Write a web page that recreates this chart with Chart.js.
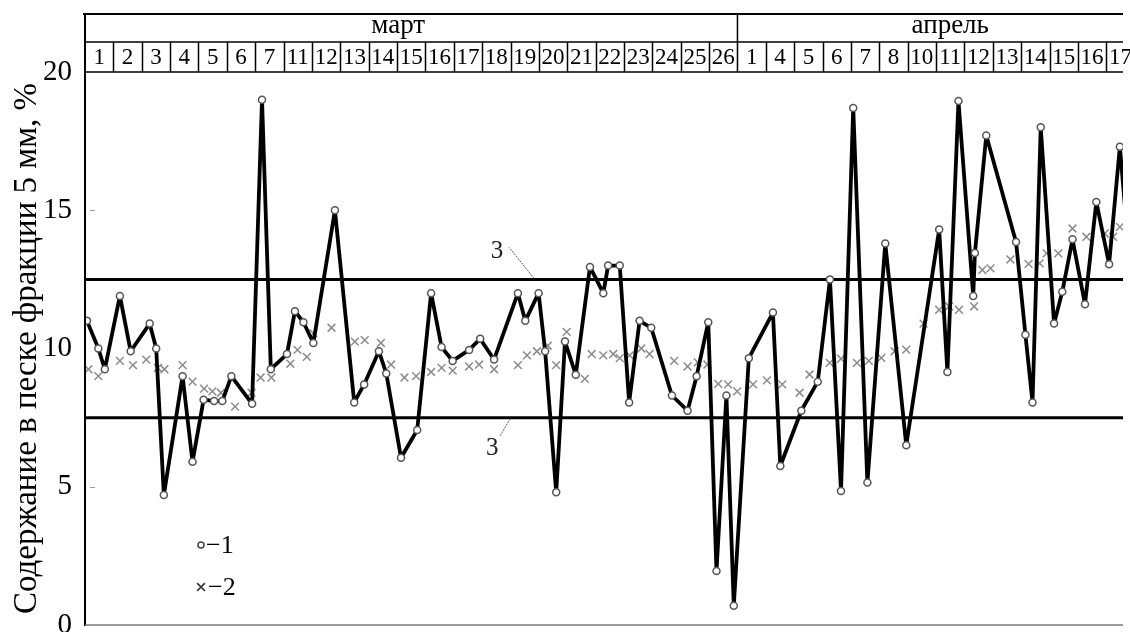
<!DOCTYPE html>
<html>
<head>
<meta charset="utf-8">
<script src="https://cdn.jsdelivr.net/npm/chart.js@4.4.1/dist/chart.umd.min.js"></script>
<style>
  html, body { margin: 0; padding: 0; background: #fff; overflow: hidden; }
  canvas { display: block; }
</style>
</head>
<body>
<canvas id="chart" width="1130" height="632"></canvas>
<script>
// Header: months and sampling days (one column per day)
const months = ['март', 'апрель'];
const marchDays = ['1','2','3','4','5','6','7','11','12','13','14','15','16','17','18','19','20','21','22','23','24','25','26'];
const aprilDays = ['1','4','5','6','7','8','10','11','12','13','14','15','16','17'];

// Series 1: individual samples (position along the day columns, content %)
const s1x = [0.07,0.47,0.70,1.23,1.61,2.28,2.51,2.78,3.44,3.79,4.18,4.55,4.84,5.16,5.89,6.24,6.55,7.12,7.40,7.70,
             8.05,8.81,9.49,9.84,10.36,10.62,11.14,11.71,12.20,12.57,12.96,13.54,13.93,14.42,15.26,15.52,15.99,16.22,16.61,16.92,
             17.30,17.80,18.27,18.44,18.85,19.18,19.55,19.96,20.69,21.24,21.56,21.97,22.26,22.61,22.87,23.40,24.25,24.51,25.25,25.83,
             26.26,26.65,27.08,27.58,28.21,28.95,30.11,30.40,30.79,31.31,31.37,31.77,32.82,33.15,33.40,33.69,34.16,34.45,34.81,35.25,
             35.65,36.10,36.48,36.75];
const s1y = [11.0,10.0,9.25,11.9,9.9,10.9,10.0,4.7,9.0,5.9,8.15,8.1,8.1,9.0,8.0,19.0,9.25,9.8,11.35,10.95,
             10.2,15.0,8.05,8.7,9.9,9.1,6.05,7.05,12.0,10.05,9.55,9.95,10.35,9.6,12.0,11.0,12.0,9.9,4.8,10.25,
             9.05,12.95,12.0,13.0,13.0,8.05,11.0,10.75,8.3,7.75,9.0,10.95,1.95,8.3,0.7,9.65,11.3,5.75,7.75,8.8,
             12.5,4.85,18.7,5.15,13.8,6.5,14.3,9.15,18.95,11.9,13.45,17.7,13.85,10.5,8.05,18.0,10.9,12.05,13.95,11.6,
             15.3,13.05,17.3,14.0];

// Series 2: moving values
const s2x = [0.12,0.47,1.23,1.69,2.16,2.57,2.80,3.44,3.79,4.20,4.49,4.79,5.29,5.87,6.19,6.57,7.24,7.49,7.82,8.05,
             8.69,9.51,9.86,10.43,10.79,11.26,11.67,12.20,12.57,12.96,13.54,13.89,14.42,15.26,15.58,15.93,16.31,16.61,16.98,17.62,
             17.86,18.27,18.62,18.85,19.20,19.61,19.90,20.77,21.24,21.60,21.94,22.32,22.67,22.99,23.55,24.04,24.58,25.19,25.54,26.25,
             26.65,27.21,27.63,28.07,28.54,28.95,29.56,30.11,30.46,30.81,31.34,31.63,31.92,32.62,33.26,33.65,33.90,34.31,34.81,35.30,
             35.95,36.24,36.48];
const s2y = [9.25,9.0,9.55,9.4,9.6,9.3,9.25,9.4,8.8,8.55,8.45,8.4,7.9,8.4,8.95,8.95,9.45,9.95,9.7,10.55,
             10.75,10.25,10.3,10.2,9.42,8.95,9.0,9.15,9.3,9.2,9.35,9.42,9.25,9.4,9.75,9.9,10.1,9.4,10.6,8.9,
             9.8,9.75,9.8,9.65,9.75,10.0,9.8,9.55,9.35,9.5,9.42,8.72,8.7,8.45,8.7,8.85,8.7,8.4,9.06,9.48,
             9.63,9.48,9.55,9.66,9.9,9.96,10.9,11.4,11.52,11.4,11.52,12.84,12.9,13.22,13.06,13.08,13.44,13.44,14.34,14.04,
             14.16,14.04,14.4];

// Curve 3: control limits
const limits = [12.5, 7.5];

const yTicks = [0, 5, 10, 15, 20];
const yTitle = 'Содержание в песке фракции 5 мм, %';
const legendLabels = ['−1', '−2'];

const SERIF = '"Liberation Serif", "DejaVu Serif", serif';
const COL_W_END = 36.59;              // visible width in day columns
const totalCols = marchDays.length + aprilDays.length;

const pts = (xs, ys) => xs.map((x, i) => ({ x, y: ys[i] }));

// Header table, axis frame, legend and "3" callouts
const framePlugin = {
  id: 'frame',
  afterDraw(chart) {
    const { ctx, chartArea: ca, scales: { x, y } } = chart;
    const colPx = c => x.getPixelForValue(c);
    const top = 14, mid = 42, bot = ca.top;
    ctx.save();
    ctx.strokeStyle = '#000';
    ctx.fillStyle = '#000';

    // outer lines
    ctx.lineWidth = 2;
    ctx.beginPath();
    ctx.moveTo(ca.left - 2, top); ctx.lineTo(ca.right, top);
    ctx.moveTo(ca.left, top); ctx.lineTo(ca.left, ca.bottom);
    ctx.stroke();
    ctx.lineWidth = 1.5;
    ctx.beginPath();
    ctx.moveTo(ca.left, mid); ctx.lineTo(ca.right, mid);
    ctx.moveTo(ca.left, bot); ctx.lineTo(ca.right, bot);
    ctx.stroke();
    ctx.strokeStyle = '#777';
    ctx.lineWidth = 1.5;
    ctx.beginPath();
    ctx.moveTo(ca.left, ca.bottom); ctx.lineTo(ca.right, ca.bottom);
    ctx.stroke();
    ctx.strokeStyle = '#000';

    // month separator and day columns
    const marchEnd = marchDays.length;
    ctx.lineWidth = 1.5;
    ctx.beginPath();
    ctx.moveTo(colPx(marchEnd), top); ctx.lineTo(colPx(marchEnd), bot);
    for (let c = 1; c <= totalCols; c++) {
      const px = Math.round(colPx(c)) + 0.5;
      if (px > ca.right) break;
      ctx.moveTo(px, mid); ctx.lineTo(px, bot);
    }
    ctx.stroke();

    // month names
    ctx.font = '27px ' + SERIF;
    ctx.textAlign = 'center';
    ctx.textBaseline = 'middle';
    const monthCentres = [colPx(marchEnd / 2) - 13, colPx(marchEnd + (aprilDays.length + 1) / 2)];
    months.forEach((m, i) => ctx.fillText(m, monthCentres[i], 26));

    // day numbers
    ctx.font = '23px ' + SERIF;
    marchDays.concat(aprilDays).forEach((d, i) => {
      ctx.fillText(d, colPx(i + 0.5), 58);
    });

    // small inner ticks on the value axis
    ctx.lineWidth = 1;
    ctx.strokeStyle = '#999';
    ctx.beginPath();
    [5, 15].forEach(v => {
      const py = Math.round(y.getPixelForValue(v)) + 0.5;
      ctx.moveTo(ca.left + 5, py); ctx.lineTo(ca.left + 10, py);
    });
    ctx.stroke();

    // callouts "3" for the control limits
    ctx.strokeStyle = '#555';
    ctx.lineWidth = 1;
    ctx.setLineDash([2, 1]);
    const upY = y.getPixelForValue(limits[0]);
    const loY = y.getPixelForValue(limits[1]);
    ctx.beginPath();
    ctx.moveTo(x.getPixelForValue(15.83), upY - 1);
    ctx.lineTo(x.getPixelForValue(15.83) - 25, upY - 32);
    ctx.moveTo(x.getPixelForValue(14.99), loY + 1);
    ctx.lineTo(x.getPixelForValue(14.99) - 10, loY + 18);
    ctx.stroke();
    ctx.setLineDash([]);
    ctx.font = '25px ' + SERIF;
    ctx.fillStyle = '#222';
    ctx.fillText('3', x.getPixelForValue(15.83) - 37, upY - 28);
    ctx.fillText('3', x.getPixelForValue(14.99) - 18, loY + 31);

    // legend
    ctx.font = '26px ' + SERIF;
    ctx.textAlign = 'left';
    ctx.fillStyle = '#fff';
    ctx.strokeStyle = '#444';
    ctx.lineWidth = 1.5;
    Chart.helpers.drawPoint(ctx, { pointStyle: 'circle', radius: 3, borderWidth: 1.5 }, 201, 545);
    ctx.fillStyle = '#000';
    ctx.fillText(legendLabels[0], 206, 546);
    ctx.strokeStyle = '#333';
    Chart.helpers.drawPoint(ctx, { pointStyle: 'crossRot', radius: 5.5, borderWidth: 1.5 }, 201, 587);
    ctx.fillText(legendLabels[1], 208, 588);
    ctx.restore();
  }
};

new Chart(document.getElementById('chart'), {
  type: 'scatter',
  data: {
    datasets: [
      {
        label: '2',
        data: pts(s2x, s2y),
        showLine: false,
        pointStyle: 'crossRot',
        pointRadius: 5.5,
        pointBorderColor: '#8c8c8c',
        pointBorderWidth: 1.5,
        order: 4
      },
      {
        label: '3',
        type: 'line',
        data: [{ x: 0, y: limits[0] }, { x: COL_W_END, y: limits[0] }],
        borderColor: '#000',
        borderWidth: 3,
        pointRadius: 0,
        order: 3
      },
      {
        label: '3',
        type: 'line',
        data: [{ x: 0, y: limits[1] }, { x: COL_W_END, y: limits[1] }],
        borderColor: '#000',
        borderWidth: 3,
        pointRadius: 0,
        order: 2
      },
      {
        label: '1',
        data: pts(s1x, s1y),
        showLine: true,
        tension: 0,
        borderColor: '#000',
        borderWidth: 3.8,
        borderJoinStyle: 'round',
        pointStyle: 'circle',
        pointRadius: 3.5,
        pointBackgroundColor: '#fff',
        pointBorderColor: '#555',
        pointBorderWidth: 1.5,
        order: 1
      }
    ]
  },
  options: {
    responsive: false,
    animation: false,
    devicePixelRatio: 1,
    layout: { padding: { top: 72, bottom: 5, left: 0, right: 0 } },
    plugins: { legend: { display: false }, tooltip: { enabled: false } },
    scales: {
      x: { type: 'linear', min: 0, max: COL_W_END, display: false },
      y: {
        min: 0, max: 20,
        afterBuildTicks: s => { s.ticks = yTicks.map(v => ({ value: v })); },
        ticks: { color: '#000', font: { family: SERIF, size: 29 }, padding: 13 },
        grid: { display: false, drawTicks: false },
        border: { display: true, color: '#000', width: 2 },
        title: {
          display: true, text: yTitle, color: '#000',
          font: { family: SERIF, size: 33 }, padding: { top: 8, bottom: 0 }
        },
        afterFit: s => { s.width = 85; s.paddingTop = 0; s.paddingBottom = 0; }
      }
    }
  },
  plugins: [framePlugin]
});
</script>
</body>
</html>
